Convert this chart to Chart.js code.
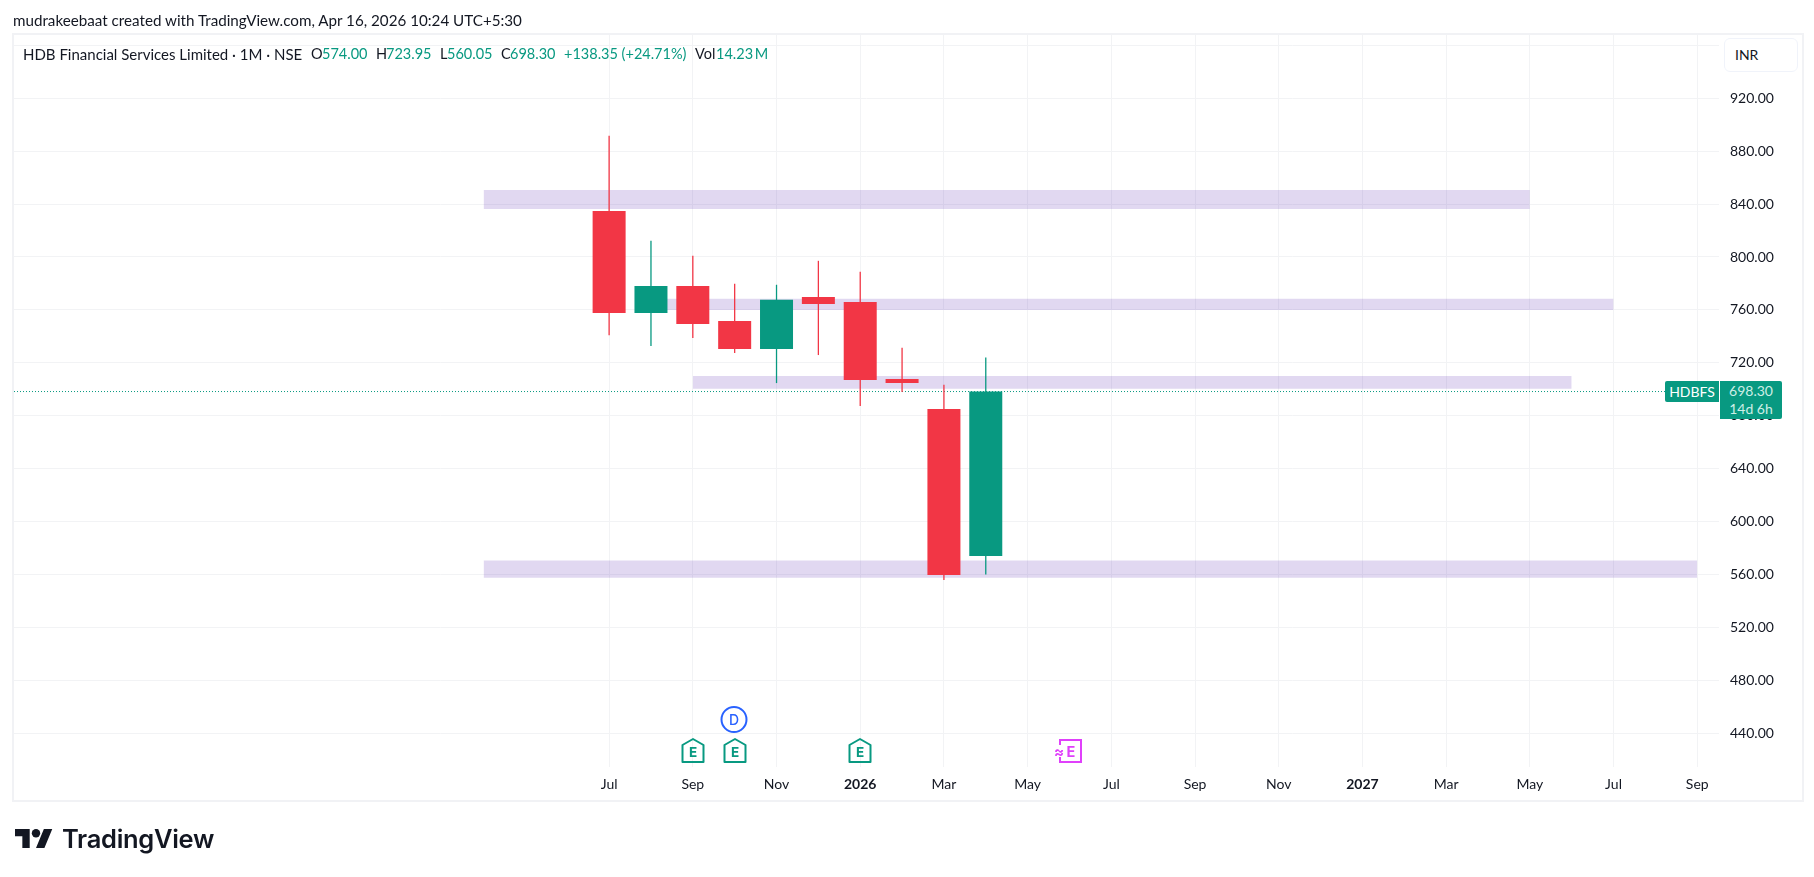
<!DOCTYPE html>
<html>
<head>
<meta charset="utf-8">
<script src="https://cdn.jsdelivr.net/npm/chart.js@4"></script>
<style>
    html, body { margin: 0; padding: 0; background: #fff; overflow: hidden; }
    body { width: 1814px; height: 877px; position: relative; font-family: Lato, sans-serif; color: #131722; }
    canvas { position: absolute; left: 0; top: 0; }
    .abs { position: absolute; white-space: nowrap; }
    #panel { left: 12px; top: 33px; width: 1788px; height: 765px; border: 2px solid #f1f2f5; }
    #created { left: 13px; top: 11px; font-size: 15.2px; line-height: 18px; }
    .lg { top: 45px; font-size: 14.5px; line-height: 18px; }
    .word { font-size: 15px; }
    .up { color: #089981; }
    #inr { left: 1724px; top: 38px; width: 72px; height: 32px; border: 1px solid #f0f3fa; border-radius: 6px; font-size: 14px; line-height: 32px; text-indent: 10px; box-sizing: content-box; background: #fff; }
    #symTag { left: 1665px; top: 381px; width: 54px; height: 21px; background: #089981; color: #fff; border-radius: 2px 0 0 2px; font-size: 14px; line-height: 21px; text-align: center; }
    #priceTag { left: 1720px; top: 381px; width: 62px; height: 38px; background: #089981; color: #cdeee6; border-radius: 0 2px 2px 0; font-size: 14px; line-height: 18px; text-align: center; padding-top: 1px; box-sizing: border-box; }
    #brand { left: 62px; top: 823px; font-family: Inter, sans-serif; font-weight: 600; font-size: 25.5px; line-height: 32px; letter-spacing: -0.3px; }
</style>
</head>
<body>
<div id="panel" class="abs"></div>
<canvas id="myChart" width="1814" height="877"></canvas>

<div id="created" class="abs">mudrakeebaat created with TradingView.com, Apr 16, 2026 10:24 UTC+5:30</div>

<div class="abs lg word" style="left:23px">HDB Financial Services Limited · 1M · NSE</div>
<div class="abs lg" style="left:311px">O</div><div class="abs lg up" style="left:322px">574.00</div>
<div class="abs lg" style="left:376px">H</div><div class="abs lg up" style="left:386px">723.95</div>
<div class="abs lg" style="left:440px">L</div><div class="abs lg up" style="left:447px">560.05</div>
<div class="abs lg" style="left:501px">C</div><div class="abs lg up" style="left:510px">698.30</div>
<div class="abs lg up" style="left:564px">+138.35 (+24.71%)</div>
<div class="abs lg" style="left:695px">Vol</div><div class="abs lg up" style="left:716px">14.23&#8201;M</div>

<div id="inr" class="abs">INR</div>
<div id="symTag" class="abs">HDBFS</div>
<div id="priceTag" class="abs">698.30<br>14d 6h</div>

<!-- earnings / dividend markers under the candles -->
<svg class="abs" style="left:0;top:0" width="1814" height="877" font-family="Inter, sans-serif" font-weight="700">
    <g fill="none" stroke="#089981" stroke-width="2" stroke-linejoin="round">
        <path d="M682.5 745 L693 739 L703.5 745 V762 H682.5 Z"/>
        <path d="M724.5 745 L735 739 L745.5 745 V762 H724.5 Z"/>
        <path d="M849.5 745 L860 739 L870.5 745 V762 H849.5 Z"/>
    </g>
    <g fill="#089981" font-size="13.5" text-anchor="middle">
        <text x="693" y="757">E</text>
        <text x="735" y="757">E</text>
        <text x="860" y="757">E</text>
    </g>
    <circle cx="734" cy="719.5" r="12.5" fill="#fff" stroke="#2962ff" stroke-width="2"/>
    <text x="734" y="724.5" fill="#2962ff" font-size="14" font-weight="500" text-anchor="middle">D</text>
    <path d="M1060 745 V740 H1081 V762 H1060 V757" fill="none" stroke="#e040fb" stroke-width="2"/>
    <text x="1071" y="756.5" fill="#e040fb" font-size="14.5" text-anchor="middle">E</text>
    <text x="1059" y="756.5" fill="#e040fb" font-size="15" text-anchor="middle">≈</text>
    <g transform="translate(15 824.8) scale(1.05)" fill="#131722">
        <path d="M14 22H7V11H0V4h14v18zM28 22h-8l7.5-18h8L28 22z"/>
        <circle cx="20" cy="8" r="4"/>
    </g>
</svg>
<div id="brand" class="abs">TradingView</div>

<script>
// monthly candles, Jul 2025 -> Apr 2026
const candleMonths = [0, 1, 2, 3, 4, 5, 6, 7, 8, 9];
const opens  = [834.8, 757.7, 778.0, 751.6, 730.5, 769.8, 766.0, 707.8, 685.1, 574.00];
const highs  = [891.5, 812.1, 800.8, 779.6, 778.9, 797.0, 788.7, 731.2, 703.3, 723.95];
const lows   = [741.0, 732.8, 738.8, 727.5, 704.8, 726.0, 687.4, 698.0, 555.9, 560.05];
const closes = [757.7, 778.0, 749.4, 730.5, 767.6, 764.5, 707.0, 704.8, 559.7, 698.30];

// bottom axis, bar index -> label
const tickLabels = ['Jul', '', 'Sep', '', 'Nov', '', '2026', '', 'Mar', '', 'May', '', 'Jul', '', 'Sep', '', 'Nov', '', '2027', '', 'Mar', '', 'May', '', 'Jul', '', 'Sep'];
const priceTicks = [440, 480, 520, 560, 600, 640, 680, 720, 760, 800, 840, 880, 920, 960];

// drawn zones: start bar, end bar, top price, bottom price
const zoneStarts  = [-3, 1, 2, -3];
const zoneEnds    = [22, 24, 23, 26];
const zoneTops    = [850.7, 768.4, 710.0, 570.5];
const zoneBottoms = [836.3, 760.0, 700.5, 557.5];

const lastPrice = 698.30;

const UP = '#089981';
const DOWN = '#f23645';
const xMin = -14.22;
const xMax = 26.52;

const candleColors = candleMonths.map(i => closes[i] >= opens[i] ? UP : DOWN);

const zoneDatasets = zoneStarts.map((start, i) => ({
    type: 'line',
    data: [{ x: start, y: zoneTops[i] }, { x: zoneEnds[i], y: zoneTops[i] }],
    fill: { value: zoneBottoms[i] },
    backgroundColor: 'rgba(103, 58, 183, 0.2)',
    borderWidth: 0,
    pointRadius: 0,
    order: 4
}));

const ctx = document.getElementById('myChart').getContext('2d');
const chartJS = new Chart(ctx, {
    type: 'bar',
    data: {
        datasets: [
            ...zoneDatasets,
            {
                // last price dotted line
                type: 'line',
                data: [{ x: xMin, y: lastPrice }, { x: xMax, y: lastPrice }],
                borderColor: UP,
                borderWidth: 1,
                borderDash: [1, 2],
                pointRadius: 0,
                order: 3
            },
            {
                // wicks
                data: candleMonths.map(i => ({ x: i, y: [lows[i], highs[i]] })),
                backgroundColor: candleColors,
                barThickness: 1,
                inflateAmount: 0.15,
                grouped: false,
                order: 2
            },
            {
                // bodies
                data: candleMonths.map(i => ({ x: i, y: [opens[i], closes[i]] })),
                backgroundColor: candleColors,
                barThickness: 33,
                inflateAmount: 0,
                grouped: false,
                order: 1
            }
        ]
    },
    options: {
        responsive: false,
        animation: false,
        events: [],
        layout: { padding: { left: 14, top: 35, right: 13, bottom: 78 } },
        plugins: { legend: { display: false }, tooltip: { enabled: false } },
        scales: {
            x: {
                type: 'linear',
                offset: false,
                min: xMin,
                max: xMax,
                afterBuildTicks: axis => { axis.ticks = tickLabels.map((l, i) => ({ value: i })).filter(t => tickLabels[t.value] !== ''); },
                afterFit: axis => { axis.height = 32; },
                grid: { color: '#f2f3f5', drawTicks: false, offset: false },
                border: { display: false },
                ticks: {
                    autoSkip: false,
                    maxRotation: 0,
                    padding: 9,
                    color: '#131722',
                    callback: value => tickLabels[value],
                    font: c => ({
                        family: 'Lato, sans-serif',
                        size: 14,
                        weight: c.tick && /^\d/.test(tickLabels[c.tick.value]) ? 'bold' : 'normal'
                    })
                }
            },
            y: {
                position: 'right',
                min: 414.5,
                max: 967.8,
                afterBuildTicks: axis => { axis.ticks = priceTicks.map(v => ({ value: v })); },
                afterFit: axis => { axis.width = 82; },
                grid: { color: '#f2f3f5', drawTicks: false },
                border: { display: false },
                ticks: {
                    autoSkip: false,
                    padding: 11,
                    color: '#131722',
                    font: { family: 'Lato, sans-serif', size: 14 },
                    callback: value => value === 960 ? '' : value.toFixed(2)
                }
            }
        }
    }
});
</script>
</body>
</html>
